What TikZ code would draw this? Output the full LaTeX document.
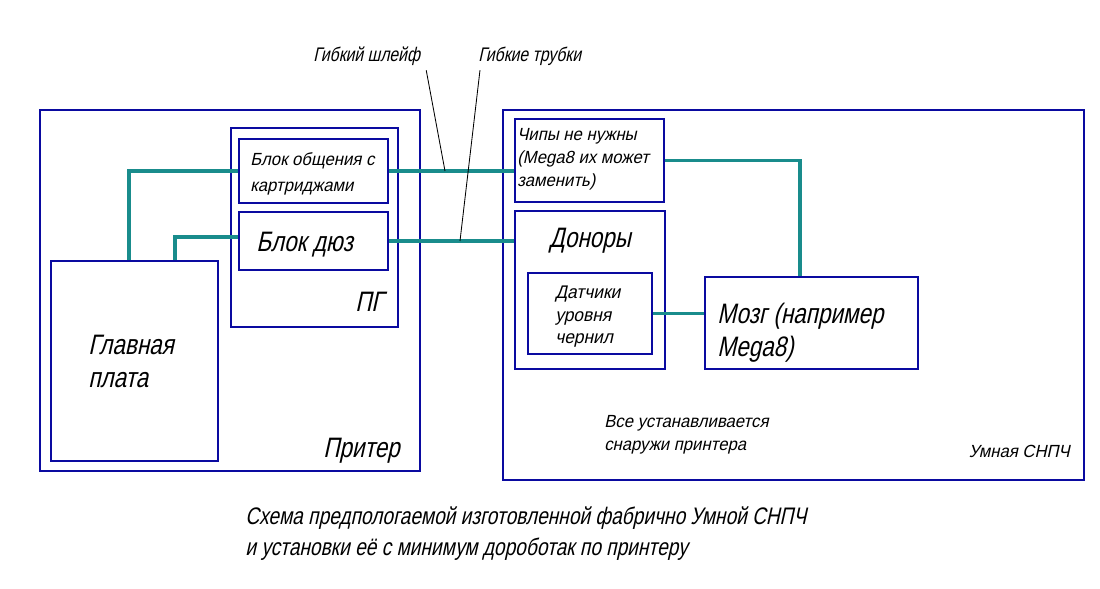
\documentclass[tikz,border=0pt]{standalone}
\usepackage{fontspec}
\newfontfamily\gost{Liberation Sans}[FakeStretch=0.8,FakeSlant=0.22]
\newfontfamily\gostwide{Liberation Sans}[FakeStretch=0.95,FakeSlant=0.22]
\usetikzlibrary{fit, calc}
\definecolor{frameblue}{RGB}{10,10,160}
\definecolor{wireteal}{RGB}{25,140,140}

\begin{document}
\begin{tikzpicture}[
  x = 0.025cm,
  y = -0.025cm,
  font = \gost,
  line join = miter
  ]

  \tikzstyle{box}=[
  draw = frameblue,
  line width = 2pt,
  inner sep = 0pt
  ]
  \tikzstyle{wire}=[draw = wireteal, line width = 2.8pt]
  \tikzstyle{leader}=[draw = black, line width = 0.6pt]
  \tikzstyle{note}=[anchor = north west, inner sep = 0pt, align = left,
  font = \gostwide\fontsize{12.5}{16.4}\selectfont]
  \tikzstyle{big}=[note, font = \gost\fontsize{20}{23.5}\selectfont]
  \tikzstyle{caption}=[note, font = \gost\fontsize{17}{22.5}\selectfont]

  \useasboundingbox (0,0) rectangle (1100,589);

  \node[box, fit={(40,110) (420,471)}] (printer) {};
  \node[box, fit={(231,128) (398,327)}] (pg) {};
  \node[box, fit={(239,139) (388,203)}] (link) {};
  \node[box, fit={(239,212) (388,270)}] (nozzle) {};
  \node[box, fit={(51,261) (218,461)}] (board) {};
  \node[box, fit={(503,110) (1084,480)}] (ciss) {};
  \node[box, fit={(515,119) (664,202)}] (chips) {};
  \node[box, fit={(515,211) (665,369)}] (donors) {};
  \node[box, fit={(528,273) (652,354)}] (sensors) {};
  \node[box, fit={(705,277) (918,369)}] (brain) {};

  \node[note, font = \gost\fontsize{14}{17}\selectfont] (shleif) at (313,47) {Гибкий шлейф};
  \node[note, font = \gost\fontsize{14}{17}\selectfont] (tubes) at (478,47) {Гибкие трубки};
  \node[note, font = \gostwide\fontsize{12.5}{18.5}\selectfont] (linktxt) at (250,152) {Блок общения с\\картриджами};
  \node[big] (nozzletxt) at (256,232) {Блок дюз};
  \node[big] (pgtxt) at (355,292) {ПГ};
  \node[big] (boardtxt) at (88,335) {Главная\\плата};
  \node[big] (printertxt) at (323,438) {Притер};
  \node[note] (chipstxt) at (517,128) {Чипы не нужны\\(Mega8 их может\\заменить)};
  \node[big] (donorstxt) at (549,228) {Доноры};
  \node[note, font = \gostwide\fontsize{13}{16}\selectfont] (sensorstxt) at (555,286) {Датчики\\уровня\\чернил};
  \node[big] (braintxt) at (717,303) {Мозг (например\\Mega8)};
  \node[note] (outsidetxt) at (604,415) {Все устанавливается\\снаружи принтера};
  \node[note, anchor = north east] (cisstxt) at (1070,445) {Умная СНПЧ};
  \node[caption] (captiontxt) at (245,506) {Схема предпологаемой изготовленной фабрично Умной СНПЧ\\и установки её с минимум дороботак по принтеру};

  \draw[wire] (link.east) -- (link.east -| chips.west);
  \draw[wire] (nozzle.east) -- (nozzle.east -| donors.west);
  \draw[wire] ($(board.north west)!0.47!(board.north east)$) |- (link.west);
  \draw[wire] ($(board.north west)!0.74!(board.north east)$) |- ($(nozzle.west)+(0,-4)$);
  \draw[wire] (chips.east) -| ($(brain.north west)!0.445!(brain.north east)$);
  \draw[wire] (sensors.east) -- (sensors.east -| brain.west);

  \coordinate (shleifend) at (445,171);
  \coordinate (tubesend) at (460,241);
  \draw[leader] ($(shleif.south east)+(6,4)$) -- (shleifend);
  \draw[leader] ($(tubes.south west)+(2,4)$) -- (tubesend);

\end{tikzpicture}
\end{document}
